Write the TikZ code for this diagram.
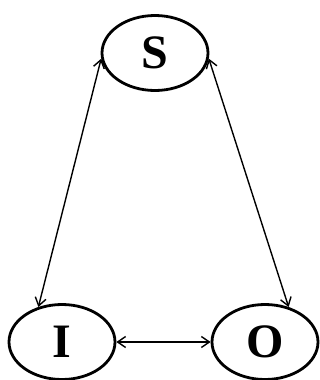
\documentclass[tikz,border=0pt]{standalone}
\usepackage{fontspec}
\setmainfont{Liberation Serif}
\usetikzlibrary{shapes.geometric,arrows.meta}
\begin{document}
\begin{tikzpicture}[x=1pt,y=-1pt,
  state/.style={ellipse,draw,line width=2.8pt,inner sep=0pt,minimum width=106pt,minimum height=75pt,font=\fontsize{48}{48}\selectfont\bfseries},
  link/.style={line width=1.4pt,{Straight Barb[length=8pt,width=11pt]}-{Straight Barb[length=8pt,width=11pt]}}]
\useasboundingbox (0,0) rectangle (320,380);
\node[state] (S) at (155,53) {S};
\node[state] (I) at (62,342) {I};
\node[state] (O) at (265,342) {O};
\draw[link] (S.186) -- (I.124);
\draw[link] (S.-6) -- (O.56);
\draw[link] (I.east) -- (O.west);
\end{tikzpicture}
\end{document}
